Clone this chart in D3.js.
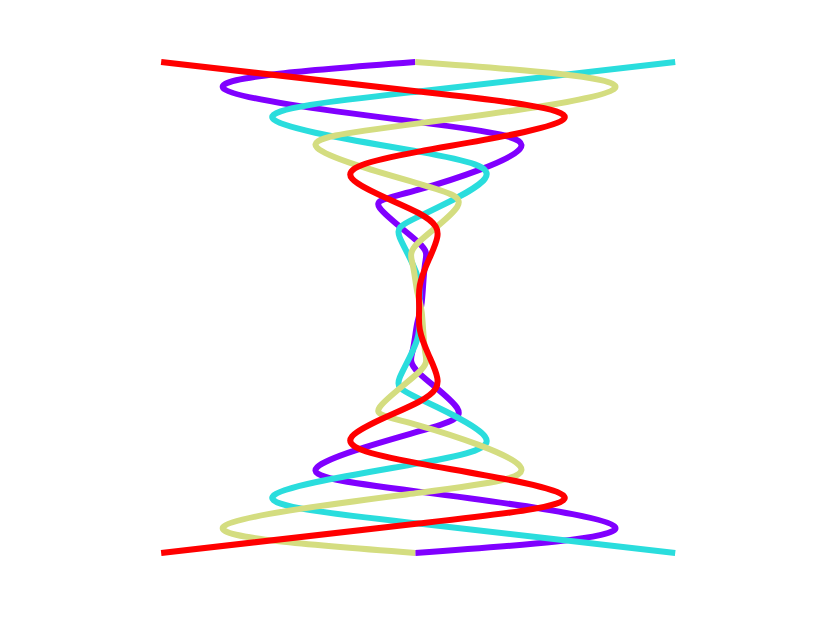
<!DOCTYPE html>
<html>
<head>
<meta charset="utf-8">
<script src="https://cdn.jsdelivr.net/npm/d3@7"></script>
<style>
  html, body { margin: 0; padding: 0; background: #ffffff; }
  svg { display: block; }
</style>
</head>
<body>
<svg id="chart" width="817" height="617"></svg>
<script>
// Points, top to bottom (x = sideways offset, z = height)
const purpleX = [-0.05, -3.03, 0, 1.57, 0, -0.60, 0, 0.10, 0.05, -0.02, -0.09, 0, 0.60, 0, -1.57, 0, 3.05, -0.05];
const purpleZ = [2.00, 1.79, 1.51, 1.29, 0.96, 0.81, 0.53, 0.35, 0.04, -0.13, -0.35, -0.53, -0.82, -1.01, -1.30, -1.50, -1.79, -2.00];

const cyanX = [3.98, 0, -2.26, 0, 1.03, 0, -0.29, -0.02, 0.01, -0.02, -0.29, 0, 1.03, 0, -2.26, 0, 3.98];
const cyanZ = [2.00, 1.76, 1.54, 1.27, 1.05, 0.74, 0.57, 0.26, 0, -0.26, -0.57, -0.74, -1.05, -1.27, -1.54, -1.76, -2.00];

const yellowX = [-0.05, 3.05, 0, -1.57, 0, 0.60, 0, -0.09, -0.02, 0.05, 0.10, 0, -0.60, 0, 1.57, 0, -3.03, -0.05];
const yellowZ = [2.00, 1.79, 1.50, 1.30, 1.01, 0.82, 0.53, 0.35, 0.13, -0.04, -0.35, -0.53, -0.81, -0.96, -1.29, -1.51, -1.79, -2.00];

const redX = [-3.99, 0, 2.26, 0, -1.03, 0, 0.29, 0.16, 0.02, 0.01, 0.02, 0.16, 0.29, 0, -1.03, 0, 2.26, 0, -3.99];
const redZ = [2.00, 1.76, 1.54, 1.27, 1.05, 0.77, 0.57, 0.39, 0.18, 0, -0.18, -0.39, -0.57, -0.77, -1.05, -1.27, -1.54, -1.76, -2.00];

// drawing order matters: red ends up on top
const series = [
  { name: "purple", xs: purpleX, zs: purpleZ, color: "#8000ff" },
  { name: "cyan", xs: cyanX, zs: cyanZ, color: "#2adddd" },
  { name: "yellow", xs: yellowX, zs: yellowZ, color: "#d4dd80" },
  { name: "red", xs: redX, zs: redZ, color: "#ff0000" }
];

const svg = d3.select("#chart");

const x = d3.scaleLinear()
  .domain([-4, 4])
  .range([160.5, 676.5]);

const z = d3.scaleLinear()
  .domain([-2, 2])
  .range([553, 62]);

const line = d3.line()
  .x(d => x(d[0]))
  .y(d => z(d[1]))
  .curve(d3.curveNatural);

svg.append("rect")
  .attr("width", 817)
  .attr("height", 617)
  .attr("fill", "#ffffff");

const g = svg.append("g");

g.selectAll(".helix")
  .data(series)
  .enter()
  .append("path")
  .attr("class", "helix")
  .attr("d", s => line(d3.zip(s.xs, s.zs)))
  .attr("fill", "none")
  .attr("stroke", s => s.color)
  .attr("stroke-width", 6)
  .attr("stroke-linejoin", "round")
  .attr("stroke-linecap", "butt");
</script>
</body>
</html>
